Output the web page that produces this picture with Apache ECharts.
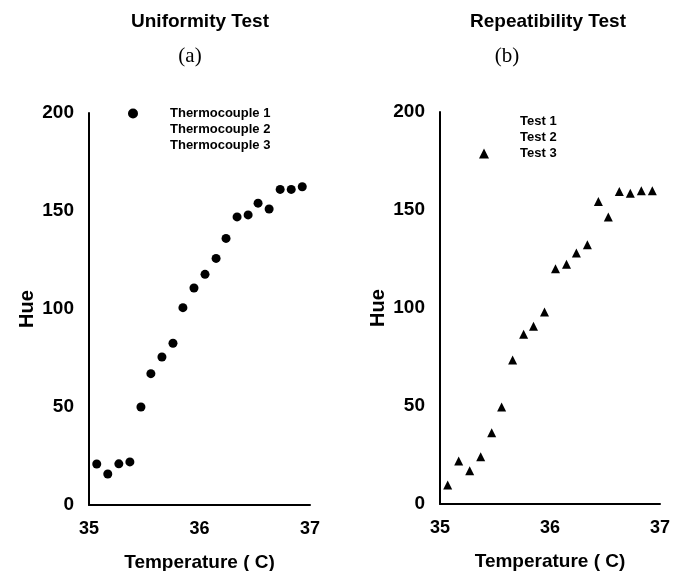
<!DOCTYPE html>
<html>
<head>
<meta charset="utf-8">
<script src="https://cdn.jsdelivr.net/npm/echarts@6/dist/echarts.min.js"></script>
<style>html,body{margin:0;padding:0;background:#fff}#c{width:679px;height:571px}</style>
</head>
<body>
<div id="c"></div>
<script>
// Data
const temperatures = [35.07, 35.17, 35.27, 35.37, 35.47, 35.56, 35.66, 35.76, 35.85, 35.95,
                      36.05, 36.15, 36.24, 36.34, 36.44, 36.53, 36.63, 36.73, 36.83, 36.93];
const thermocouple1 = [20.9, 15.8, 21, 22, 50, 67, 75.5, 82.5, 100.7, 110.7,
                       117.7, 125.8, 136, 147, 148, 154, 151, 161, 161, 162.4];
const thermocouple2 = [];
const thermocouple3 = [];
const test1 = [];
const test2 = [];
const test3 = [9.7, 21.9, 17, 24.1, 36.4, 49.5, 73.5, 86.6, 90.7, 98,
               120, 122.3, 128, 132.3, 154.4, 146.4, 159.5, 158.5, 159.8, 159.8];
const xTicks = [35, 36, 37];
const yTicks = [0, 50, 100, 150, 200];
const panelTitles = ['Uniformity Test', 'Repeatibility Test'];
const panelLetters = ['(a)', '(b)'];
const xName = 'Temperature ( C)';
const yName = 'Hue';
const legendA = ['Thermocouple 1', 'Thermocouple 2', 'Thermocouple 3'];
const legendB = ['Test 1', 'Test 2', 'Test 3'];

const pairs = (ys) => ys.map((y, i) => [temperatures[i], y]);
const SANS = '"Liberation Sans", Arial, Helvetica, sans-serif';
const SERIF = '"Liberation Serif", "Times New Roman", serif';

function xAxis(gi) {
  return {
    type: 'value', gridIndex: gi, min: xTicks[0], max: xTicks[xTicks.length - 1], interval: 1,
    name: xName, nameLocation: 'middle', nameGap: 48,
    nameTextStyle: { fontFamily: SANS, fontWeight: 'bold', fontSize: 19, color: '#000' },
    axisLine: { lineStyle: { color: '#000', width: 2 } },
    axisTick: { show: false }, splitLine: { show: false },
    axisLabel: { margin: 15, fontFamily: SANS, fontWeight: 'bold', fontSize: 18, color: '#000' }
  };
}
function yAxis(gi) {
  return {
    type: 'value', gridIndex: gi, min: yTicks[0], max: yTicks[yTicks.length - 1], interval: 50,
    name: yName, nameLocation: 'middle', nameGap: 52, nameRotate: 90,
    nameTextStyle: { fontFamily: SANS, fontWeight: 'bold', fontSize: 20, color: '#000' },
    axisLine: { show: true, lineStyle: { color: '#000', width: 2 } },
    axisTick: { show: false }, splitLine: { show: false },
    axisLabel: { margin: 15, fontFamily: SANS, fontWeight: 'bold', fontSize: 19, color: '#000' }
  };
}
function sc(name, gi, data, symbol, size, color) {
  return { name, type: 'scatter', xAxisIndex: gi, yAxisIndex: gi, data: pairs(data),
           symbol, symbolSize: size, itemStyle: { color, opacity: 1 }, emphasis: { disabled: true } };
}
const legendText = (pad) => ({ fontFamily: SANS, fontWeight: 'bold', fontSize: 13, lineHeight: 15,
                               color: '#000', padding: [0, 0, 0, pad] });

const chart = echarts.init(document.getElementById('c'), null, { renderer: 'canvas' });
chart.setOption({
  animation: false,
  backgroundColor: '#fff',
  title: [
    { text: panelTitles[0], left: 200, top: 12, textAlign: 'center', padding: 0,
      textStyle: { fontFamily: SANS, fontWeight: 'bold', fontSize: 19, color: '#000' } },
    { text: panelLetters[0], left: 190, top: 46, textAlign: 'center', padding: 0,
      textStyle: { fontFamily: SERIF, fontWeight: 'normal', fontSize: 21, color: '#000' } },
    { text: panelTitles[1], left: 548, top: 12, textAlign: 'center', padding: 0,
      textStyle: { fontFamily: SANS, fontWeight: 'bold', fontSize: 19, color: '#000' } },
    { text: panelLetters[1], left: 507, top: 46, textAlign: 'center', padding: 0,
      textStyle: { fontFamily: SERIF, fontWeight: 'normal', fontSize: 21, color: '#000' } }
  ],
  legend: [
    { data: legendA, orient: 'vertical', left: 128, top: 106, padding: 0,
      itemWidth: 10, itemHeight: 10, itemGap: 1, selectedMode: false,
      textStyle: legendText(27) },
    { data: legendB, orient: 'vertical', left: 479, top: 114, padding: 0,
      itemWidth: 10, itemHeight: 10, itemGap: 1, selectedMode: false,
      textStyle: legendText(26) }
  ],
  grid: [
    { left: 89, top: 113, width: 221, height: 392, outerBoundsMode: 'none', containLabel: false },
    { left: 440, top: 112, width: 220, height: 392, outerBoundsMode: 'none', containLabel: false }
  ],
  xAxis: [xAxis(0), xAxis(1)],
  yAxis: [yAxis(0), yAxis(1)],
  series: [
    sc(legendA[0], 0, thermocouple1, 'circle', 9, '#000'),
    sc(legendA[1], 0, thermocouple2, 'circle', 9, 'rgba(0,0,0,0)'),
    sc(legendA[2], 0, thermocouple3, 'circle', 9, 'rgba(0,0,0,0)'),
    sc(legendB[0], 1, test1, 'triangle', 9, 'rgba(0,0,0,0)'),
    sc(legendB[1], 1, test2, 'triangle', 9, 'rgba(0,0,0,0)'),
    sc(legendB[2], 1, test3, 'triangle', 9, '#000')
  ]
});
</script>
</body>
</html>
